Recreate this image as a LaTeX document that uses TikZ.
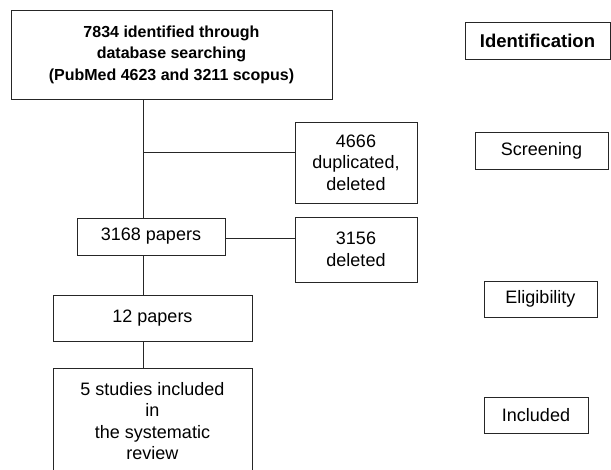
\documentclass[tikz,border=0pt]{standalone}
\usepackage{fontspec}
\setmainfont{Liberation Sans}
\begin{document}
\begin{tikzpicture}[x=1pt,y=-1pt,
  box/.style={draw=black!85, line width=0.9pt, inner sep=0pt, align=center, font=\fontsize{18}{21.5}\selectfont},
  bbox/.style={box, font=\fontsize{16}{21.5}\selectfont\bfseries},
  conn/.style={draw=black!85, line width=0.9pt}]
\useasboundingbox (0,0) rectangle (611,470);
\node[bbox, minimum width=321pt, minimum height=89pt] (top) at (171.5,54.5) {7834 identified through\\database searching\\(PubMed 4623 and 3211 scopus)};
\node[box, minimum width=122pt, minimum height=81pt] (dup) at (356,162.5) {4666\\duplicated,\\deleted};
\node[box, minimum width=148pt, minimum height=37pt] (p3168) at (151,236.5) {3168 papers};
\node[box, minimum width=122pt, minimum height=65pt] (del) at (356,249.5) {3156\\deleted};
\node[box, minimum width=199pt, minimum height=46pt] (p12) at (152.5,318) {12 papers};
\node[box, minimum width=199pt, minimum height=106pt] (incl) at (152.5,421) {5 studies included\\in\\the systematic\\review};
\node[box, font=\fontsize{18.5}{21}\selectfont\bfseries, minimum width=145pt, minimum height=37pt] (sid) at (537.5,40.5) {Identification};
\node[box, minimum width=133pt, minimum height=37pt] (sscr) at (541.5,150.5) {Screening};
\node[box, minimum width=113pt, minimum height=36pt] (selig) at (540.5,299) {Eligibility};
\node[box, minimum width=104pt, minimum height=36pt] (sincl) at (536,415) {Included};
\coordinate (v) at (143,0);
\coordinate (j1) at (143,152);
\draw[conn] (top.south -| v) -- (p3168.north -| v);
\draw[conn] (j1) -- (j1 -| dup.west);
\draw[conn] (p3168.east |- 0,238) -- (del.west |- 0,238);
\draw[conn] (p3168.south -| v) -- (p12.north -| v);
\draw[conn] (p12.south -| v) -- (incl.north -| v);
\end{tikzpicture}
\end{document}
